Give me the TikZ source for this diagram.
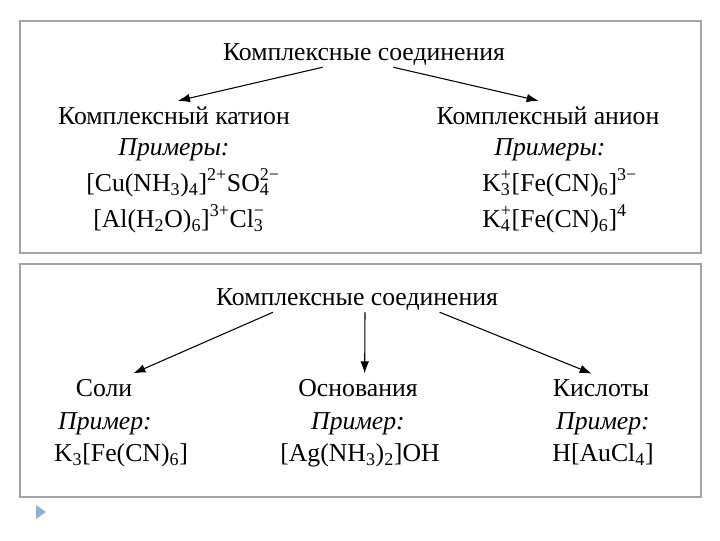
\documentclass[tikz,border=0pt]{standalone}
\usepackage{fontspec}
\setmainfont{Liberation Serif}
\usetikzlibrary{positioning,arrows.meta}
\definecolor{framegray}{HTML}{A4A4A4}
\definecolor{bulletblue}{HTML}{8FB0DA}
% stacked super- and subscript (ion charges)
\newcommand{\ionchg}[2]{\rlap{\textsubscript{#2}}\textsuperscript{#1}}

\begin{document}
\begin{tikzpicture}[x=0.75pt, y=-0.75pt,
    every node/.style={font=\fontsize{19.3}{23}\selectfont, inner sep=0pt, anchor=base},
    arr/.style={-{Latex[length=9pt,width=6.5pt]}, line width=0.8pt},
    panel/.style={draw=framegray, line width=1.6pt}]
    \useasboundingbox (0,0) rectangle (720,540);

    % the two frames
    \draw[panel] (20,21) rectangle (701,253);
    \draw[panel] (20,264) rectangle (701,497);

    % upper frame: cation / anion
    \node (sost1) at (364,60) {Комплексные соединения};
    \node (cation) at (174,124) {Комплексный катион};
    \node (ex1) at (174,155) {\textit{Примеры:}};
    \node (cu) at (183,191) {[Cu(NH\textsubscript{3})\textsubscript{4}]\textsuperscript{2+}SO\ionchg{2−}{4}};
    \node (al) at (179,227) {[Al(H\textsubscript{2}O)\textsubscript{6}]\textsuperscript{3+}Cl\ionchg{−}{3}};
    \node (anion) at (548,124) {Комплексный анион};
    \node (ex2) at (550,155) {\textit{Примеры:}};
    \node (kfe3) [anchor=base west] at (482,191) {K\ionchg{+}{3}[Fe(CN)\textsubscript{6}]\textsuperscript{3−}};
    \node (kfe4) [anchor=base west] at (482,227) {K\ionchg{+}{4}[Fe(CN)\textsubscript{6}]\textsuperscript{4}};

    \draw[arr] ([xshift=-31pt,yshift=-1.5pt]sost1.south) -- ([xshift=3pt,yshift=4pt]cation.north);
    \draw[arr] ([xshift=22pt,yshift=-1.5pt]sost1.south) -- ([xshift=-7pt,yshift=4pt]anion.north);

    % lower frame: salts, bases, acids
    \node (sost2) at (357,305) {Комплексные соединения};
    \node (soli) at (104,396) {Соли};
    \node (ex3) at (105,429) {\textit{Пример:}};
    \node (kfe) at (121,461) {K\textsubscript{3}[Fe(CN)\textsubscript{6}]};
    \node (osn) at (358,396) {Основания};
    \node (ex4) at (358,429) {\textit{Пример:}};
    \node (ag) at (360,461) {[Ag(NH\textsubscript{3})\textsubscript{2}]OH};
    \node (kisl) at (601,396) {Кислоты};
    \node (ex5) at (603,429) {\textit{Пример:}};
    \node (au) at (603,461) {H[AuCl\textsubscript{4}]};

    \draw[arr] ([xshift=-63pt,yshift=-1.5pt]sost2.south) -- ([xshift=22pt,yshift=4pt]soli.north);
    \draw[arr] ([xshift=6pt,yshift=-1.5pt]sost2.south) -- ([xshift=5pt,yshift=4pt]osn.north);
    \draw[arr] ([xshift=62pt,yshift=-1.5pt]sost2.south) -- ([xshift=-7pt,yshift=4pt]kisl.north);

    % slide bullet
    \fill[bulletblue] (36,505) -- (46,512) -- (36,519) -- cycle;
\end{tikzpicture}
\end{document}
